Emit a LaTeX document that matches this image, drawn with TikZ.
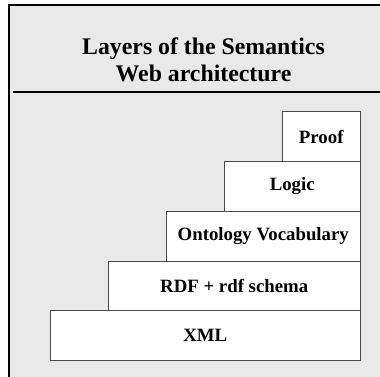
\documentclass[tikz,border=0pt]{standalone}
\usepackage{fontspec}
\setmainfont{Liberation Serif}
\definecolor{panelgrey}{HTML}{E9E9E9}
\definecolor{edgegrey}{HTML}{4A4A4A}
\tikzset{
  layer/.style={draw=edgegrey, line width=1pt, fill=white, anchor=north west,
    inner sep=0pt, font=\fontsize{18.8}{22}\selectfont\bfseries},
  titletext/.style={align=center, font=\fontsize{23.8}{26.5}\selectfont\bfseries}
}
\begin{document}
\begin{tikzpicture}[x=1pt,y=-1pt]
  \useasboundingbox (0,0) rectangle (380,377);
  % panel background, framed on its left and top edges
  \fill[panelgrey] (9,5) rectangle (381,378);
  \draw[line width=1.4pt, line cap=rect] (9,378) -- (9,5) -- (381,5);
  % heading and the rule below it
  \node[titletext] (title) at (203.5,60) {Layers of the Semantics\\Web architecture};
  \coordinate (ruleL) at (13,92);
  \coordinate (ruleR) at (381,92);
  \draw[line width=1.4pt] (ruleL) -- (ruleR);
  % the stacked layers, all flush right
  \node[layer, minimum width=310.5pt, minimum height=50pt] (xml) at (49.5,310.3) {XML};
  \node[layer, minimum width=252.5pt, minimum height=49.7pt] (rdf) at (107.5,260.6) {RDF + rdf schema};
  \node[layer, minimum width=194.5pt, minimum height=49.7pt] (onto) at (165.5,210.9) {Ontology Vocabulary};
  \node[layer, minimum width=136.5pt, minimum height=49.7pt] (logic) at (223.5,161.2) {Logic};
  \node[layer, minimum width=78.5pt, minimum height=49.7pt] (proof) at (281.5,111.5) {Proof};
\end{tikzpicture}
\end{document}
